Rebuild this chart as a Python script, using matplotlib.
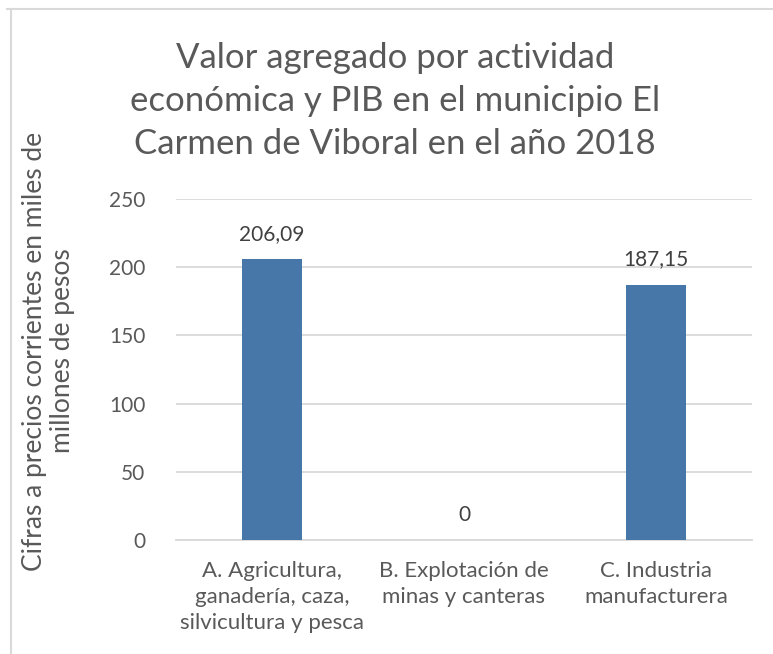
import matplotlib.pyplot as plt
from matplotlib.lines import Line2D

categorias = ['A. Agricultura,\nganadería, caza,\nsilvicultura y pesca',
              'B. Explotación de\nminas y canteras',
              'C. Industria\nmanufacturera']
valores = [206.09, 0, 187.15]
etiquetas = ['206,09', '0', '187,15']
yticks = [0, 50, 100, 150, 200, 250]

gris = '#595959'
azul = '#4677a8'
plt.rcParams['font.family'] = ['Lato', 'DejaVu Sans']

fig = plt.figure(figsize=(7.73, 6.54), dpi=100)
ax = fig.add_axes([0.2277, 0.1743, 0.745, 0.5214])

x = range(len(valores))
ax.bar(x, valores, width=0.31, color=azul, zorder=3)
for xi, v, t in zip(x, valores, etiquetas):
    ax.annotate(t, (xi, v), xytext=(0, 11), textcoords='offset points',
                ha='center', va='bottom', fontsize=15, color='#404040')

ax.set_xlim(-0.5, 2.5)
ax.set_ylim(0, 250)
ax.set_yticks(yticks)
ax.set_xticks(list(x))
ax.set_xticklabels(categorias, fontsize=16, color=gris, linespacing=1.38)
ax.tick_params(axis='y', length=0, labelsize=15, labelcolor=gris, pad=22)
ax.tick_params(axis='x', length=0, labelcolor=gris, pad=15)
ax.grid(axis='y', color='#d9d9d9', linewidth=1.3, zorder=0)
for s in ['top', 'right', 'left']:
    ax.spines[s].set_visible(False)
ax.spines['bottom'].set_color('#d9d9d9')
ax.spines['bottom'].set_linewidth(1.3)

fig.text(0.0625, 0.4633, 'Cifras a precios corrientes en miles de\nmillones de pesos',
         rotation=90, ha='center', va='center', fontsize=19, color=gris,
         linespacing=1.15)

fig.text(0.511, 0.8456, 'Valor agregado por actividad\neconómica y PIB en el municipio El\nCarmen de Viboral en el año 2018',
         ha='center', va='center', fontsize=25, color=gris, linespacing=1.42)

fig.add_artist(Line2D([0.009, 1.0], [0.9862, 0.9862], transform=fig.transFigure,
                      color='#d9d9d9', linewidth=1.5))
fig.add_artist(Line2D([0.0142, 0.0142], [0.0, 0.9862], transform=fig.transFigure,
                      color='#d9d9d9', linewidth=1.5))

fig.savefig('out.png', dpi=100)
